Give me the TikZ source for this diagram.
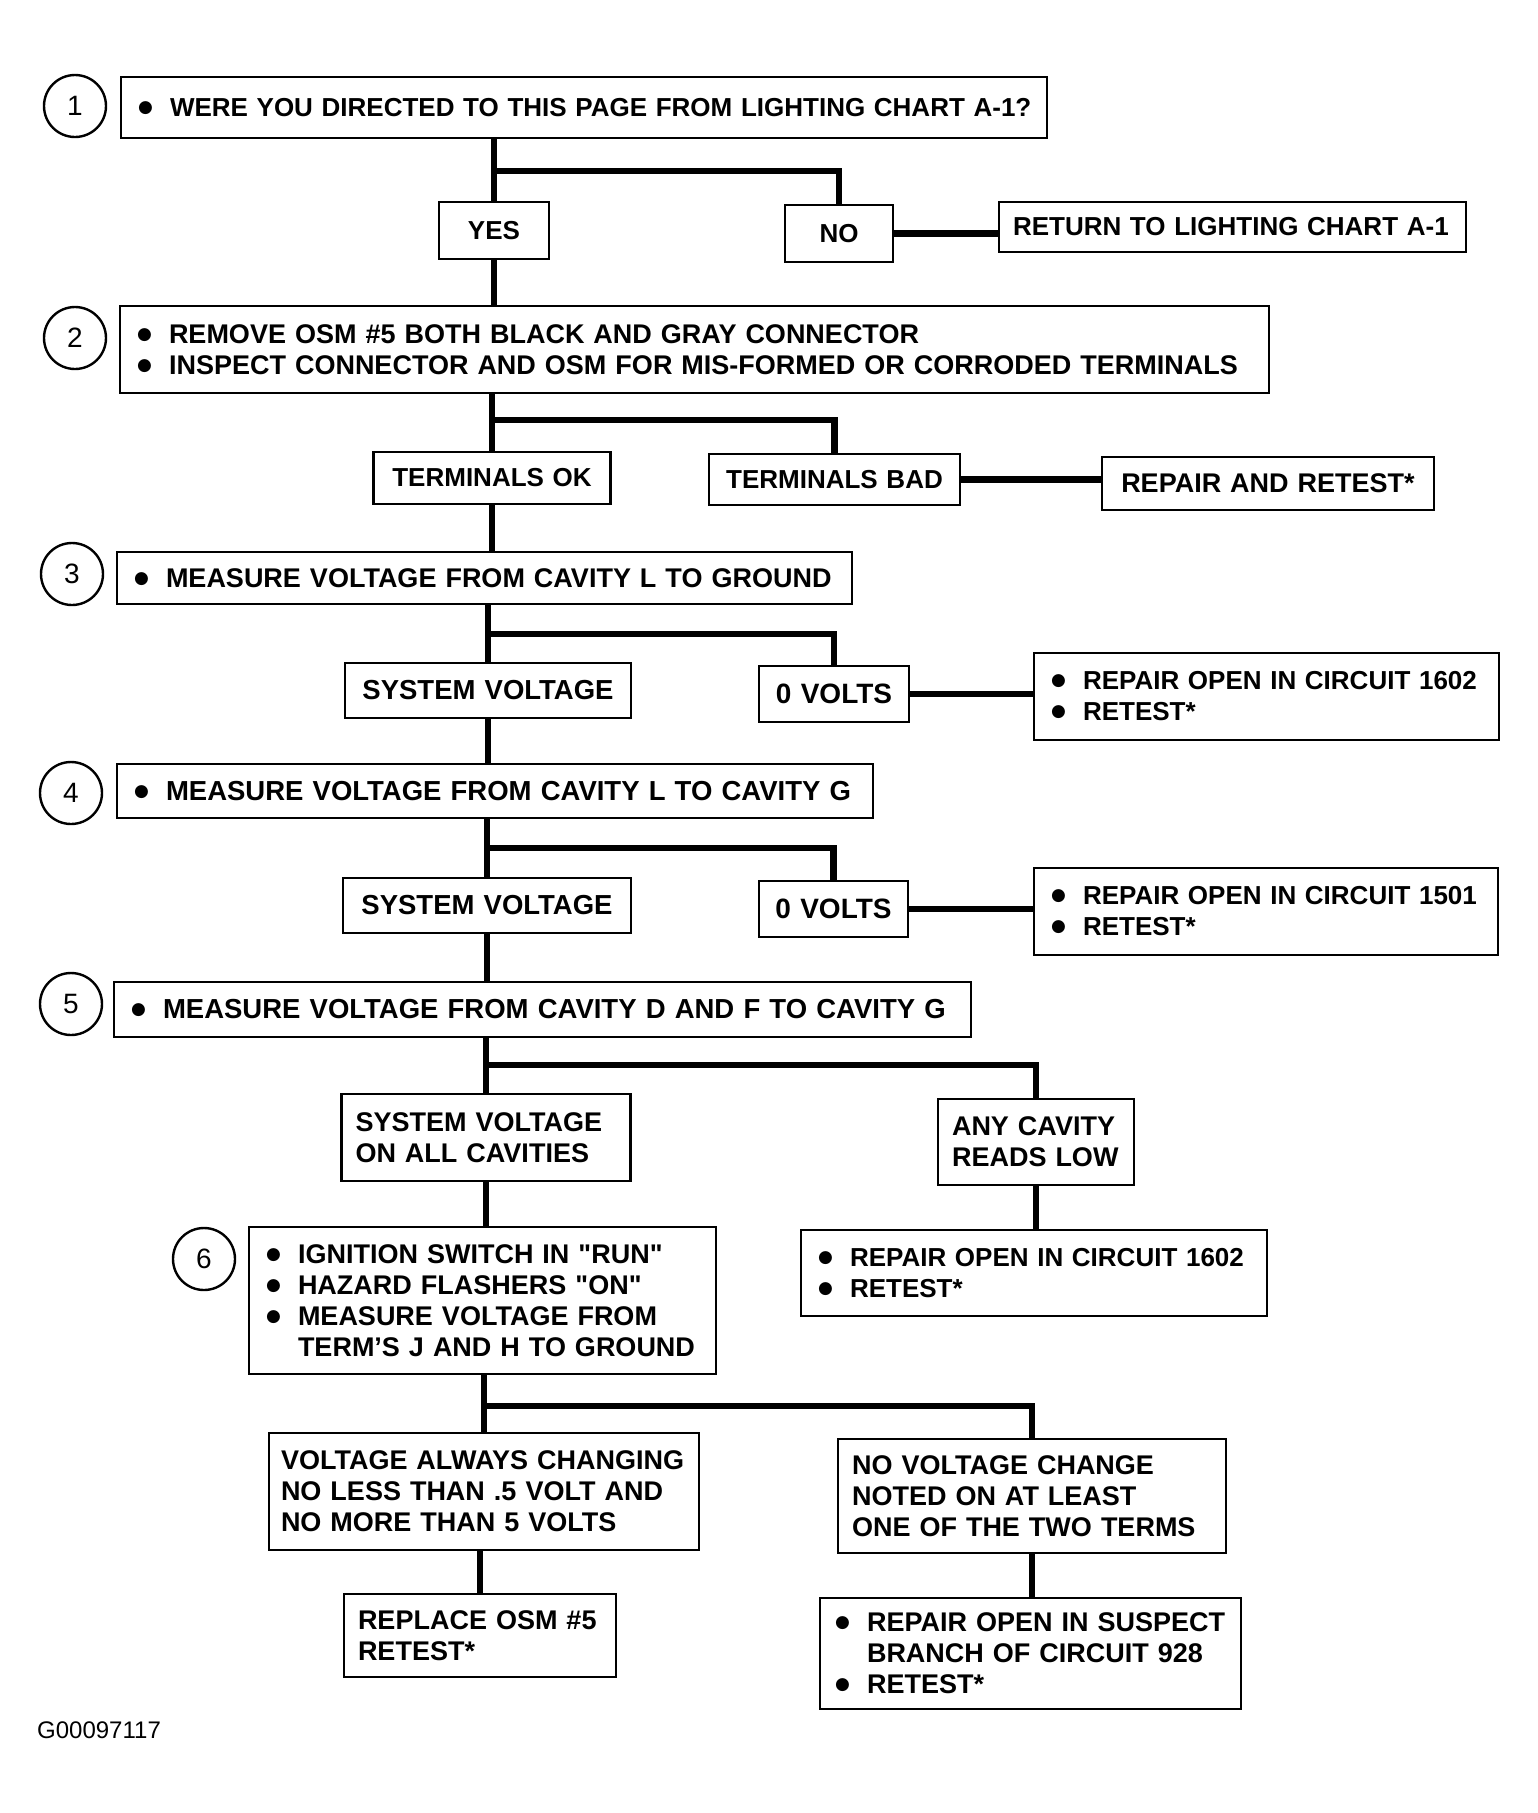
\documentclass[tikz,border=0pt]{standalone}
\usepackage{fontspec}
\setmainfont{Liberation Sans}
\newfontfamily\dejavu{DejaVu Sans}
\newcommand\bul{\makebox[35pt][l]{\hspace{3pt}\raisebox{4pt}{\dejavu\fontsize{17}{17}\selectfont ●}}}
\newcommand\ind{\hspace*{35pt}}
\newcommand\qq{\textquotedbl}
\tikzset{
  box/.style={draw, line width=2.6pt, inner xsep=14pt, inner ysep=0pt, align=left,
    font=\fontsize{26}{31}\selectfont\bfseries},
  fz/.style={font=\fontsize{#1}{31}\selectfont\bfseries},
  cbox/.style={box, align=center},
  num/.style={draw, circle, line width=2.4pt, minimum size=62pt, inner sep=0pt,
    font=\fontsize{28}{28}\selectfont},
  conn/.style={line width=6.5pt}
}
\begin{document}
\begin{tikzpicture}[x=1pt,y=-1pt]
\useasboundingbox (0,0) rectangle (1538,1813);
% step circles
\node[num] (c1) at (75,106) {1};
\node[num] (c2) at (75,338) {2};
\node[num] (c3) at (72,574) {3};
\node[num] (c4) at (71,793) {4};
\node[num] (c5) at (71,1004) {5};
\node[num] (c6) at (204,1259) {6};
% boxes
\node[box, text width=898pt, minimum height=61pt] (b1) at (584,107.5) {\bul WERE YOU DIRECTED TO THIS PAGE FROM LIGHTING CHART A-1?};
\node[cbox, text width=82pt, minimum height=57pt] (yes) at (494,230.5) {YES};
\node[cbox, text width=80pt, minimum height=57pt] (no) at (839,233.5) {NO};
\node[box, text width=439pt, minimum height=50pt] (ret) at (1232.5,227) {RETURN TO LIGHTING CHART A-1};
\node[box, fz=27, text width=1121pt, minimum height=87pt] (b2) at (694.5,349.5) {\bul REMOVE OSM \#5 BOTH BLACK AND GRAY CONNECTOR\\\bul INSPECT CONNECTOR AND OSM FOR MIS-FORMED OR CORRODED TERMINALS};
\node[cbox, text width=209pt, minimum height=52pt] (tok) at (492,478) {TERMINALS OK};
\node[cbox, text width=223pt, minimum height=51pt] (tbad) at (834.5,479.5) {TERMINALS BAD};
\node[cbox, fz=27, text width=304pt, minimum height=53pt] (rep) at (1268,483.5) {REPAIR AND RETEST*};
\node[box, fz=27, text width=707pt, minimum height=52pt] (b3) at (484.5,578) {\bul MEASURE VOLTAGE FROM CAVITY L TO GROUND};
\node[cbox, fz=27.5, text width=258pt, minimum height=55pt] (sv1) at (488,690.5) {SYSTEM VOLTAGE};
\node[cbox, fz=28, text width=122pt, minimum height=56pt] (zv1) at (834,694) {0 VOLTS};
\node[box, text width=437pt, minimum height=87pt] (r1602) at (1266.5,696.5) {\bul REPAIR OPEN IN CIRCUIT 1602\\\bul RETEST*};
\node[box, fz=27.5, text width=728pt, minimum height=54pt] (b4) at (495,791) {\bul MEASURE VOLTAGE FROM CAVITY L TO CAVITY G};
\node[cbox, fz=27.5, text width=260pt, minimum height=55pt] (sv2) at (487,905.5) {SYSTEM VOLTAGE};
\node[cbox, fz=28, text width=121pt, minimum height=56pt] (zv2) at (833.5,909) {0 VOLTS};
\node[box, text width=436pt, minimum height=87pt] (r1501) at (1266,911.5) {\bul REPAIR OPEN IN CIRCUIT 1501\\\bul RETEST*};
\node[box, fz=27.5, text width=829pt, minimum height=55pt] (b5) at (542.5,1009.5) {\bul MEASURE VOLTAGE FROM CAVITY D AND F TO CAVITY G};
\node[box, fz=27, text width=261pt, minimum height=87pt] (svall) at (486,1137.5) {SYSTEM VOLTAGE\\ON ALL CAVITIES};
\node[box, fz=27, text width=168pt, minimum height=86pt] (low) at (1036,1142) {ANY CAVITY\\READS LOW};
\node[box, text width=438pt, minimum height=86pt] (r1602b) at (1034,1273) {\bul REPAIR OPEN IN CIRCUIT 1602\\\bul RETEST*};
\node[box, fz=27, text width=439pt, minimum height=147pt] (b6) at (482.5,1300.5) {\bul IGNITION SWITCH IN \qq RUN\qq\\\bul HAZARD FLASHERS \qq ON\qq\\\bul MEASURE VOLTAGE FROM\\\ind TERM'S J AND H TO GROUND};
\node[box, fz=27, inner xsep=12pt, text width=406pt, minimum height=117pt] (vac) at (484,1491.5) {VOLTAGE ALWAYS CHANGING\\NO LESS THAN .5 VOLT AND\\NO MORE THAN 5 VOLTS};
\node[box, fz=27, text width=360pt, minimum height=114pt] (nvc) at (1032,1496) {NO VOLTAGE CHANGE\\NOTED ON AT LEAST\\ONE OF THE TWO TERMS};
\node[box, fz=27, text width=244pt, minimum height=83pt] (rosm) at (480,1635.5) {REPLACE OSM \#5\\RETEST*};
\node[box, fz=27, inner xsep=12pt, text width=397pt, minimum height=111pt] (rsusp) at (1030.5,1653.5) {\bul \mbox{REPAIR OPEN IN SUSPECT}\\\ind BRANCH OF CIRCUIT 928\\\bul RETEST*};
\node[anchor=west, font=\fontsize{24}{24}\selectfont, inner sep=0pt] (gid) at (37,1730) {G00097117};
% junctions
\coordinate (j1) at (494,171);
\coordinate (j2) at (492,420);
\coordinate (j3) at (488,634);
\coordinate (j4) at (487,848);
\coordinate (j5) at (486,1065);
\coordinate (j6) at (484,1406);
% connectors
\draw[conn] (b1.south -| yes.north) -- (yes.north);
\draw[conn] (j1) -| (no.north);
\draw[conn] (no.east) -- (no.east -| ret.west);
\draw[conn] (yes.south) -- (yes.south |- b2.north);
\draw[conn] (b2.south -| tok.north) -- (tok.north);
\draw[conn] (j2) -| (tbad.north);
\draw[conn] (tbad.east) -- (tbad.east -| rep.west);
\draw[conn] (tok.south) -- (tok.south |- b3.north);
\draw[conn] (b3.south -| sv1.north) -- (sv1.north);
\draw[conn] (j3) -| (zv1.north);
\draw[conn] (zv1.east) -- (zv1.east -| r1602.west);
\draw[conn] (sv1.south) -- (sv1.south |- b4.north);
\draw[conn] (b4.south -| sv2.north) -- (sv2.north);
\draw[conn] (j4) -| (zv2.north);
\draw[conn] (zv2.east) -- (zv2.east -| r1501.west);
\draw[conn] (sv2.south) -- (sv2.south |- b5.north);
\draw[conn] (b5.south -| svall.north) -- (svall.north);
\draw[conn] (j5) -| (low.north);
\draw[conn] (low.south) -- (low.south |- r1602b.north);
\draw[conn] (svall.south) -- (svall.south |- b6.north);
\draw[conn] (b6.south -| vac.north) -- (vac.north);
\draw[conn] (j6) -| (nvc.north);
\draw[conn] (rosm.north |- vac.south) -- (rosm.north);
\draw[conn] (nvc.south) -- (nvc.south |- rsusp.north);
\end{tikzpicture}
\end{document}
